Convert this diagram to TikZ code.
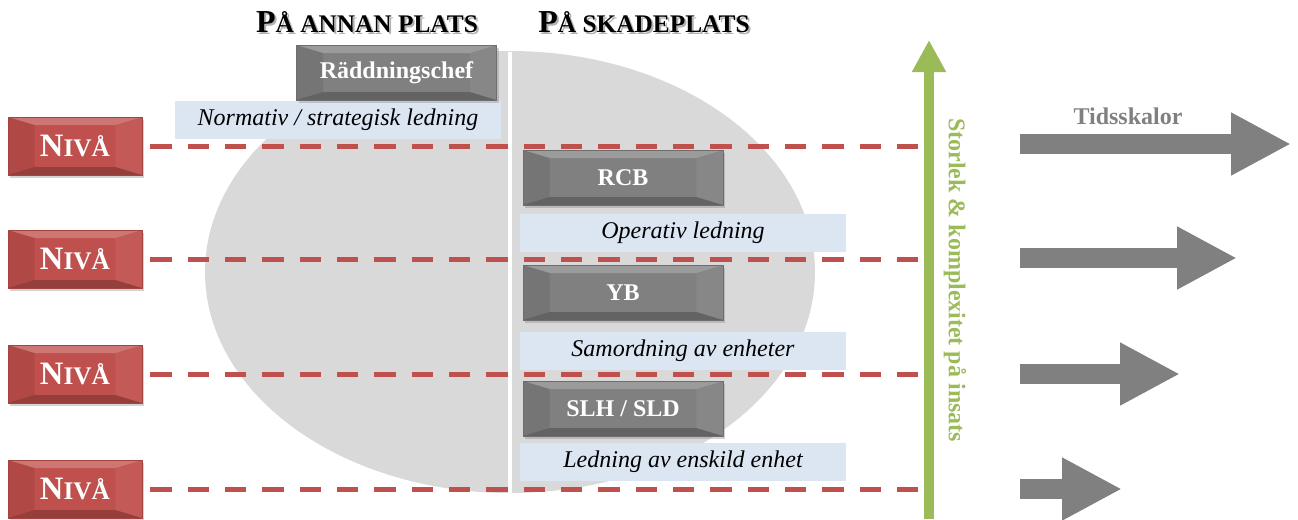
\documentclass[tikz,border=0pt]{standalone}
\usepackage{fontspec}
\setmainfont{Liberation Serif}
\usetikzlibrary{arrows.meta,shadows}

\definecolor{rodniva}{RGB}{192,80,77}
\definecolor{gra}{RGB}{128,128,128}
\definecolor{ljusbla}{RGB}{220,230,242}
\definecolor{gron}{RGB}{155,187,89}
\definecolor{ellgra}{RGB}{217,217,217}

\tikzset{
  knapp/.style={shape=rectangle, fill=#1, draw=#1!85!black, line width=0.5pt,
    text=white, inner sep=0pt,
    drop shadow={opacity=0.35, shadow xshift=1.5pt, shadow yshift=-2pt},
    path picture={
      \fill[white, opacity=0.22] (path picture bounding box.north west)
        -- (path picture bounding box.north east)
        -- ([xshift=-20pt,yshift=-6pt]path picture bounding box.north east)
        -- ([xshift=20pt,yshift=-6pt]path picture bounding box.north west) -- cycle;
      \fill[black, opacity=0.22] (path picture bounding box.south west)
        -- (path picture bounding box.south east)
        -- ([xshift=-20pt,yshift=6pt]path picture bounding box.south east)
        -- ([xshift=20pt,yshift=6pt]path picture bounding box.south west) -- cycle;
      \fill[black, opacity=0.08] (path picture bounding box.north west)
        -- ([xshift=20pt,yshift=-6pt]path picture bounding box.north west)
        -- ([xshift=20pt,yshift=6pt]path picture bounding box.south west)
        -- (path picture bounding box.south west) -- cycle;
      \fill[white, opacity=0.06] (path picture bounding box.north east)
        -- ([xshift=-20pt,yshift=-6pt]path picture bounding box.north east)
        -- ([xshift=-20pt,yshift=6pt]path picture bounding box.south east)
        -- (path picture bounding box.south east) -- cycle;
    }},
  niva/.style={knapp=rodniva, minimum width=100.5pt, minimum height=43.5pt,
    font=\bfseries},
  roll/.style={knapp=gra, minimum width=150pt, minimum height=41.25pt,
    font=\bfseries\fontsize{18}{21}\selectfont},
  band/.style={fill=ljusbla, inner sep=0pt, minimum width=244.5pt,
    minimum height=28.5pt, font=\itshape\fontsize{18}{21}\selectfont},
  rubrik/.style={font=\bfseries},
  streck/.style={draw=rodniva, line width=3.75pt, dash pattern=on 16pt off 12pt,
    shorten <=6pt},
  tidpil/.style={draw=gra, line width=15pt, -{Triangle[width=44pt,length=45pt]}}
}

\newcommand{\nivatext}{{\fontsize{24.5}{26}\selectfont N}{\fontsize{19}{22}\selectfont IVÅ}}
\newcommand{\platstext}[1]{{\fontsize{24}{27}\selectfont P}{\fontsize{19}{22}\selectfont #1}}

\begin{document}
\begin{tikzpicture}[x=0.75pt, y=-0.75pt]
    \useasboundingbox (0,0) rectangle (1298,519);
    % bakgrund
    \fill [ellgra] (510,272) ellipse [x radius=228.75pt, y radius=165.75pt];
    \draw [white, line width=3.5pt] (510,52) -- (510,493);

    % rubriker
    \path (369,24) node (h1s) [rubrik, text=black, opacity=0.3] {\platstext{Å ANNAN PLATS}}
    (646,24) node (h2s) [rubrik, text=black, opacity=0.3] {\platstext{Å SKADEPLATS}};
    \path (367,22) node (h1) [rubrik] {\platstext{Å ANNAN PLATS}}
    (644,22) node (h2) [rubrik] {\platstext{Å SKADEPLATS}};

    % ledningsnivaer
    \path (338,120) node (b0) [band] {Normativ / strategisk ledning}
    (683,233) node (b1) [band] {Operativ ledning}
    (683,351) node (b2) [band] {Samordning av enheter}
    (683,462) node (b3) [band] {Ledning av enskild enhet};
    \path (396.5,72.5) node (r0) [roll] {Räddningschef}
    (623,177.5) node (r1) [roll] {RCB}
    (623,292.5) node (r2) [roll] {YB}
    (623,408.5) node (r3) [roll] {SLH / SLD};

    \path (75,146) node (n1) [niva] {\nivatext}
    (75,259) node (n2) [niva] {\nivatext}
    (75,374) node (n3) [niva] {\nivatext}
    (75,489) node (n4) [niva] {\nivatext};
    \coordinate (e1) at (918,146);
    \coordinate (e2) at (918,259);
    \coordinate (e3) at (918,374);
    \coordinate (e4) at (918,489);
    \draw [streck] (n1) -- (e1);
    \draw [streck] (n2) -- (e2);
    \draw [streck] (n3) -- (e3);
    \draw [streck] (n4) -- (e4);

    % storlek
    \coordinate (g0) at (929,519);
    \coordinate (g1) at (929,40);
    \draw [gron, line width=7.5pt, -{Triangle[width=24pt,length=24pt]}] (g0) -- (g1);
    \path (955,280) node (st) [rotate=-90, text=gron, font=\bfseries\fontsize{18}{21}\selectfont]
      {Storlek \& komplexitet på insats};

    % tidsskalor
    \path (1128,116) node (ts) [text=gra, font=\bfseries\fontsize{18}{21}\selectfont] {Tidsskalor};
    \coordinate (t1) at (1020,144);
    \coordinate (t2) at (1020,258);
    \coordinate (t3) at (1020,374);
    \coordinate (t4) at (1020,489);
    \coordinate (u1) at (1291,144);
    \coordinate (u2) at (1237,258);
    \coordinate (u3) at (1180,374);
    \coordinate (u4) at (1122,489);
    \draw [tidpil] (t1) -- (u1);
    \draw [tidpil] (t2) -- (u2);
    \draw [tidpil] (t3) -- (u3);
    \draw [tidpil] (t4) -- (u4);
\end{tikzpicture}
\end{document}
